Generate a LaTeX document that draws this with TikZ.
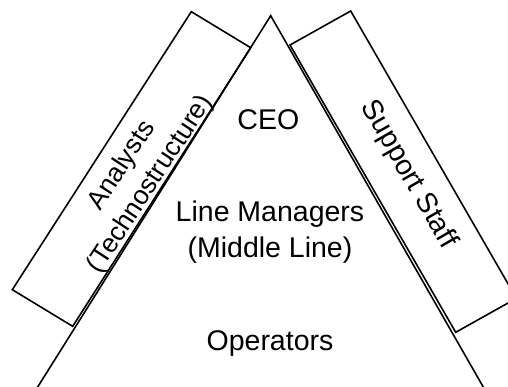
\documentclass[tikz,border=0pt]{standalone}
\usepackage{fontspec}
\setmainfont{Liberation Sans}
\usetikzlibrary{calc}
\begin{document}
\begin{tikzpicture}[x=1pt,y=-1pt,
  edge/.style={line width=1.6pt,line join=miter},
  lbl/.style={inner sep=0pt,font=\fontsize{28.5}{36.3}\selectfont,align=center},
  sidelbl/.style={inner sep=0pt,font=\fontsize{26.5}{33.8}\selectfont,align=center}]
\useasboundingbox (0,0) rectangle (508,386);
\clip (0,0) rectangle (508,386);
% triangle (organisation)
\coordinate (apex) at (270.7,15.7);
\coordinate (tl) at (38.3,386);
\coordinate (tr) at (482.7,386);
\draw[edge] ($(apex)!1.05!(tl)$) -- (apex) -- ($(apex)!1.05!(tr)$);
% left rectangle (technostructure)
\coordinate (la) at (191.3,11.7);
\coordinate (lb) at (250.7,47.7);
\coordinate (lc) at (72.7,326.3);
\coordinate (ld) at (12.3,289.7);
\draw[edge] (la) -- (lb) -- (lc) -- (ld) -- cycle;
% right rectangle (support staff)
\coordinate (ra) at (350.7,11);
\coordinate (rb) at (290,45);
\coordinate (rc) at (455.7,332.3);
\coordinate (rd) at (516.4,298.3);
\draw[edge] (ra) -- (rb) -- (rc) -- (rd) -- cycle;
% labels
\node[lbl,anchor=base] (ceo) at (268.3,129.3) {CEO};
\node[lbl,anchor=base] (mid) at (270,257.3) {Line Managers\\(Middle Line)};
\node[lbl,anchor=base] (ops) at (270,350.7) {Operators};
\node[sidelbl,rotate=56.8] (ana) at (136.5,175) {Analysts\\(Technostructure)};
\node[lbl,rotate=-60] (sup) at (408.5,174.5) {Support Staff};
\end{tikzpicture}
\end{document}
